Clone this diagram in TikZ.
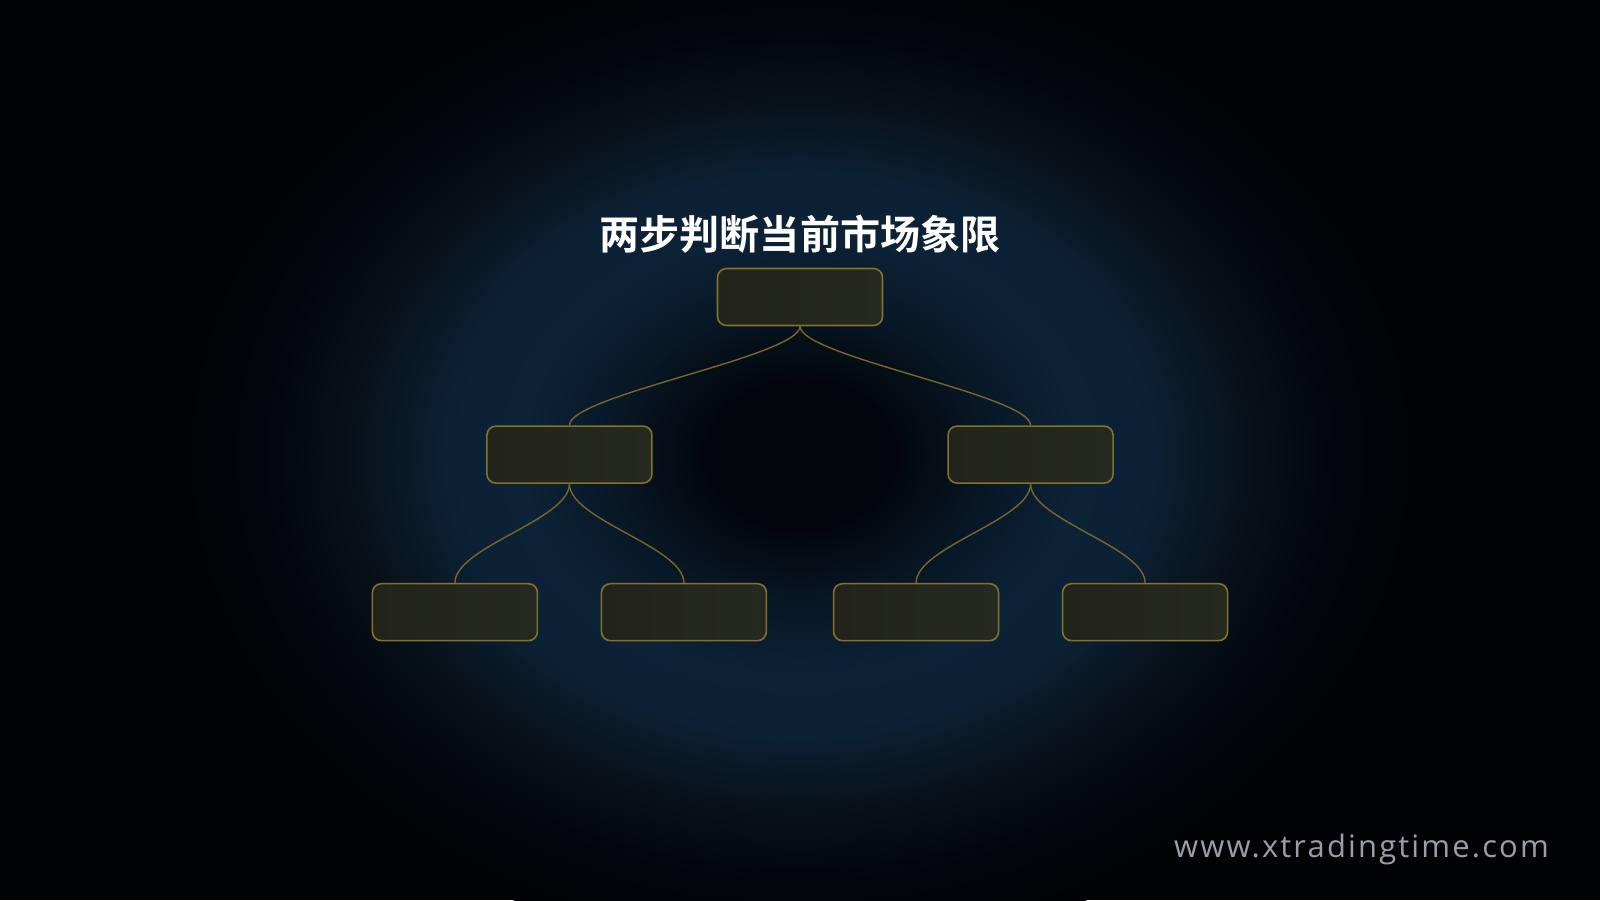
\documentclass[tikz,border=0pt]{standalone}
\usepackage{fontspec}
\usepackage{xcolor}
\usepackage{tikz}
\usetikzlibrary{positioning,calc}

\newfontfamily\cjkbold{Noto Sans CJK SC Bold}
\newfontfamily\webfont[LetterSpace=7]{Open Sans}

\definecolor{bgbase}{HTML}{020304}
\definecolor{bgcore}{HTML}{02050A}
\definecolor{bgmid}{HTML}{081726}
\definecolor{bgblue}{HTML}{0C2236}
\definecolor{bgfade}{HTML}{08121C}
\definecolor{boxfillA}{HTML}{22241B}
\definecolor{boxfillB}{HTML}{262920}
\definecolor{boxline}{HTML}{83722C}
\definecolor{linkcol}{HTML}{766629}
\definecolor{webgray}{HTML}{9A9EA8}

% tikz maps the inner 50bp square onto the path, so 25bp is the rim
\pgfdeclareradialshading{bgglow}{\pgfpoint{0bp}{0bp}}{%
  color(0bp)=(bgcore); color(3.5bp)=(bgcore); color(7.5bp)=(bgmid);
  color(11bp)=(bgblue); color(14bp)=(bgblue!85!bgmid); color(17.5bp)=(bgfade);
  color(21.5bp)=(bgcore); color(25bp)=(bgbase); color(50bp)=(bgbase)}

\begin{document}
\begin{tikzpicture}[
    node distance=1cm,
    qbox/.style={rectangle, rounded corners=0.09cm, draw=boxline, line width=0.45pt,
      left color=boxfillA, right color=boxfillB, minimum width=1.65cm, minimum height=0.57cm,
      inner sep=0pt},
    link/.style={draw=linkcol, line width=0.4pt}
]

% Background
\useasboundingbox (0,0) rectangle (16,9);
\fill[bgbase] (0,0) rectangle (16,9);
\shade[shading=bgglow] (8.0,4.45) ellipse [x radius=6.3cm, y radius=5.0cm];

% Title
\node[font=\cjkbold\fontsize{11.4}{13}\selectfont, text=white] (title) at (8.00,6.655) {两步判断当前市场象限};

% Tree
\node[qbox] (root) at (8.00,6.03) {};
\node[qbox, below left=0.99cm and 0.64cm of root] (midL) {};
\node[qbox, below right=0.99cm and 0.64cm of root] (midR) {};
\node[qbox, below=0.99cm of midL, xshift=-1.145cm] (leafLL) {};
\node[qbox, below=0.99cm of midL, xshift=1.145cm] (leafLR) {};
\node[qbox, below=0.99cm of midR, xshift=-1.145cm] (leafRL) {};
\node[qbox, below=0.99cm of midR, xshift=1.145cm] (leafRR) {};

% Links
\draw[link] (root.south) .. controls +(0,-0.3) and +(0,0.3) .. (midL.north);
\draw[link] (root.south) .. controls +(0,-0.3) and +(0,0.3) .. (midR.north);
\draw[link] (midL.south) .. controls +(0,-0.36) and +(0,0.36) .. (leafLL.north);
\draw[link] (midL.south) .. controls +(0,-0.36) and +(0,0.36) .. (leafLR.north);
\draw[link] (midR.south) .. controls +(0,-0.36) and +(0,0.36) .. (leafRL.north);
\draw[link] (midR.south) .. controls +(0,-0.36) and +(0,0.36) .. (leafRR.north);

% Watermark
\node[font=\webfont\fontsize{8.8}{10}\selectfont, text=webgray, anchor=base] (site) at (13.615,0.43) {www.xtradingtime.com};

\end{tikzpicture}
\end{document}
